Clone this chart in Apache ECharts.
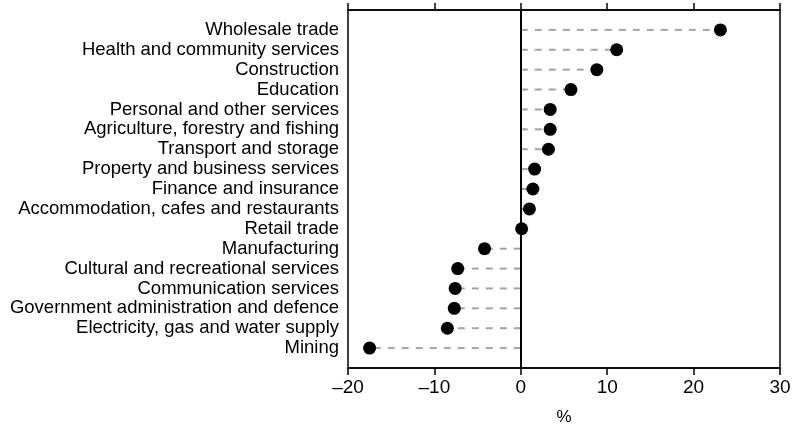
<!DOCTYPE html>
<html><head><meta charset="utf-8">
<script src="https://cdn.jsdelivr.net/npm/echarts@6/dist/echarts.min.js"></script>
<style>html,body{margin:0;padding:0;background:#fff}#c{width:799px;height:427px}</style>
</head><body><div id="c"></div>
<script>
const categories = [
  'Wholesale trade','Health and community services','Construction','Education',
  'Personal and other services','Agriculture, forestry and fishing','Transport and storage',
  'Property and business services','Finance and insurance','Accommodation, cafes and restaurants',
  'Retail trade','Manufacturing','Cultural and recreational services','Communication services',
  'Government administration and defence','Electricity, gas and water supply','Mining'
];
const values = [23.1, 11.1, 8.8, 5.8, 3.4, 3.4, 3.2, 1.6, 1.4, 1.0, 0.1, -4.2, -7.3, -7.6, -7.7, -8.5, -17.5];
const xTicks = [-20, -10, 0, 10, 20, 30];

const FONT = 'Liberation Sans';
const yCats = [''].concat(categories, ['']);
const dotData = values.map((v, i) => [v, i + 1]);

const chart = echarts.init(document.getElementById('c'));
chart.setOption({
  animation: false,
  grid: { left: 348, right: 19, top: 10, bottom: 59, show: true, borderColor: '#000', borderWidth: 1.5,
    containLabel: false, outerBoundsMode: 'none' },
  xAxis: [{
    type: 'value', min: xTicks[0], max: xTicks[xTicks.length - 1], interval: 10, position: 'bottom',
    name: '%', nameLocation: 'middle', nameGap: 41,
    nameTextStyle: { fontFamily: FONT, fontSize: 17, color: '#000' },
    axisLine: { show: true, lineStyle: { color: '#000', width: 1.5 } },
    axisTick: { show: true, length: 7, lineStyle: { color: '#000', width: 1.5 } },
    axisLabel: { fontFamily: FONT, fontSize: 19, color: '#000', margin: 10,
      formatter: v => (v < 0 ? '\u2013' + Math.abs(v) : String(v)) },
    splitLine: { show: false }
  }, {
    type: 'value', min: xTicks[0], max: xTicks[xTicks.length - 1], interval: 10, position: 'top',
    axisLine: { show: true, lineStyle: { color: '#000', width: 1.5 } },
    axisTick: { show: true, length: 7, lineStyle: { color: '#000', width: 1.5 } },
    axisLabel: { show: false }, splitLine: { show: false }
  }],
  yAxis: {
    type: 'category', data: yCats, inverse: true, boundaryGap: false,
    axisLine: { show: true, lineStyle: { color: '#000', width: 1.5 } },
    axisTick: { show: false },
    axisLabel: { fontFamily: FONT, fontSize: 18.5, color: '#000', margin: 9, interval: 0, lineHeight: 18 },
    splitLine: { show: false }
  },
  series: [{
    type: 'custom',
    data: dotData,
    renderItem: function (params, api) {
      const p0 = api.coord([0, api.value(1)]);
      const p1 = api.coord([api.value(0), api.value(1)]);
      return { type: 'line', shape: { x1: p0[0], y1: p0[1], x2: p1[0], y2: p1[1] },
        style: { stroke: '#a3a3a3', lineWidth: 2, lineDash: [7, 7] } };
    },
    z: 1
  }, {
    type: 'scatter', data: dotData, symbol: 'circle', symbolSize: 13,
    itemStyle: { color: '#000', opacity: 1 }, z: 3,
    markLine: {
      silent: true, symbol: 'none', label: { show: false },
      lineStyle: { color: '#000', type: 'solid', width: 2 },
      data: [{ xAxis: 0 }]
    }
  }]
});
</script>
</body></html>
